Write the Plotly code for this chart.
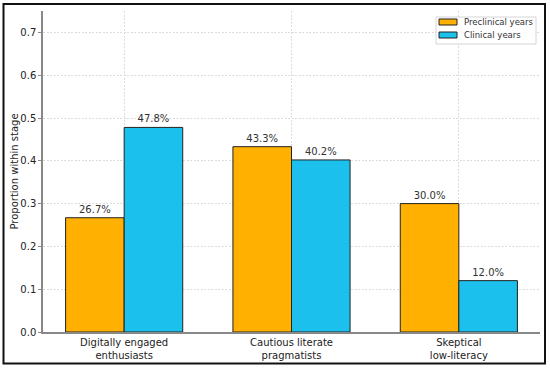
import plotly.graph_objects as go

categories = ["Digitally engaged<br>enthusiasts", "Cautious literate<br>pragmatists", "Skeptical<br>low-literacy"]
preclinical = [0.267, 0.433, 0.300]
clinical = [0.478, 0.402, 0.120]
series_names = ["Preclinical years", "Clinical years"]
ytick_vals = [0.0, 0.1, 0.2, 0.3, 0.4, 0.5, 0.6, 0.7]

ORANGE = "#FFB000"
CYAN = "#1BC1EC"
FONT = "DejaVu Sans"

W, H = 550, 368
ML, MR, MT, MB = 43, 10, 11, 36
PW, PH = W - ML - MR, H - MT - MB


def px_x(px):
    return (px - ML) / PW


def px_y(py):
    return (H - MB - py) / PH


x = list(range(len(categories)))
fig = go.Figure()
colors = [ORANGE, CYAN]
for name, vals, col in zip(series_names, [preclinical, clinical], colors):
    fig.add_trace(go.Bar(
        x=x, y=vals, name=name,
        marker=dict(color=col, line=dict(color="#222222", width=1)),
        text=[f"{v*100:.1f}%" for v in vals],
        textposition="outside",
        textfont=dict(family=FONT, size=10, color="#333333"),
        cliponaxis=False,
        showlegend=False,
    ))

fig.update_layout(
    width=W, height=H,
    margin=dict(l=ML, r=MR, t=MT, b=MB, autoexpand=False),
    paper_bgcolor="white", plot_bgcolor="white",
    barmode="group", bargap=0.3, bargroupgap=0,
    font=dict(family=FONT, size=10, color="#333333"),
    xaxis=dict(
        range=[-0.485, 2.485], tickvals=x, ticktext=categories,
        showgrid=True, gridcolor="#DCDCDC", griddash="2px,1.5px", gridwidth=1,
        showline=True, linecolor="#888888", linewidth=1.5,
        ticks="", zeroline=False, automargin=False,
        tickfont=dict(family=FONT, size=10, color="#222222"),
    ),
    yaxis=dict(
        range=[0, 0.75], tickvals=ytick_vals, tickformat=".1f",
        showgrid=True, gridcolor="#DCDCDC", griddash="2px,1.5px", gridwidth=1,
        showline=True, linecolor="#888888", linewidth=1.5,
        ticks="outside", ticklen=3, tickcolor="#888888", zeroline=False,
        automargin=False,
        tickfont=dict(family=FONT, size=10, color="#222222"),
        title=dict(text="Proportion within stage", font=dict(family=FONT, size=10, color="#222222"), standoff=0),
    ),
)

# Legend (drawn manually to match compact style)
fig.add_shape(type="rect", xref="paper", yref="paper",
              x0=px_x(436), x1=px_x(536), y0=px_y(44), y1=px_y(17),
              line=dict(color="#D5D5D5", width=1), fillcolor="rgba(255,255,255,0.85)", layer="above")
for i, (name, col) in enumerate(zip(series_names, colors)):
    yc = 22 + 13 * i
    fig.add_shape(type="rect", xref="paper", yref="paper",
                  x0=px_x(439), x1=px_x(457), y0=px_y(yc + 3), y1=px_y(yc - 3),
                  line=dict(color="#222222", width=1), fillcolor=col, layer="above")
    fig.add_annotation(xref="paper", yref="paper", x=px_x(462), y=px_y(yc),
                       text=name, showarrow=False, xanchor="left", yanchor="middle",
                       font=dict(family=FONT, size=8.5, color="#333333"))

# Outer figure frame
fig.add_shape(
    type="rect", xref="paper", yref="paper",
    x0=px_x(3.5), x1=px_x(545), y0=px_y(363.5), y1=px_y(4),
    line=dict(color="#111111", width=2), layer="above",
)

fig.write_html(
    "out.html",
    config={"displayModeBar": False},
    post_script="document.body.style.margin='0';document.body.style.overflow='hidden';",
)
